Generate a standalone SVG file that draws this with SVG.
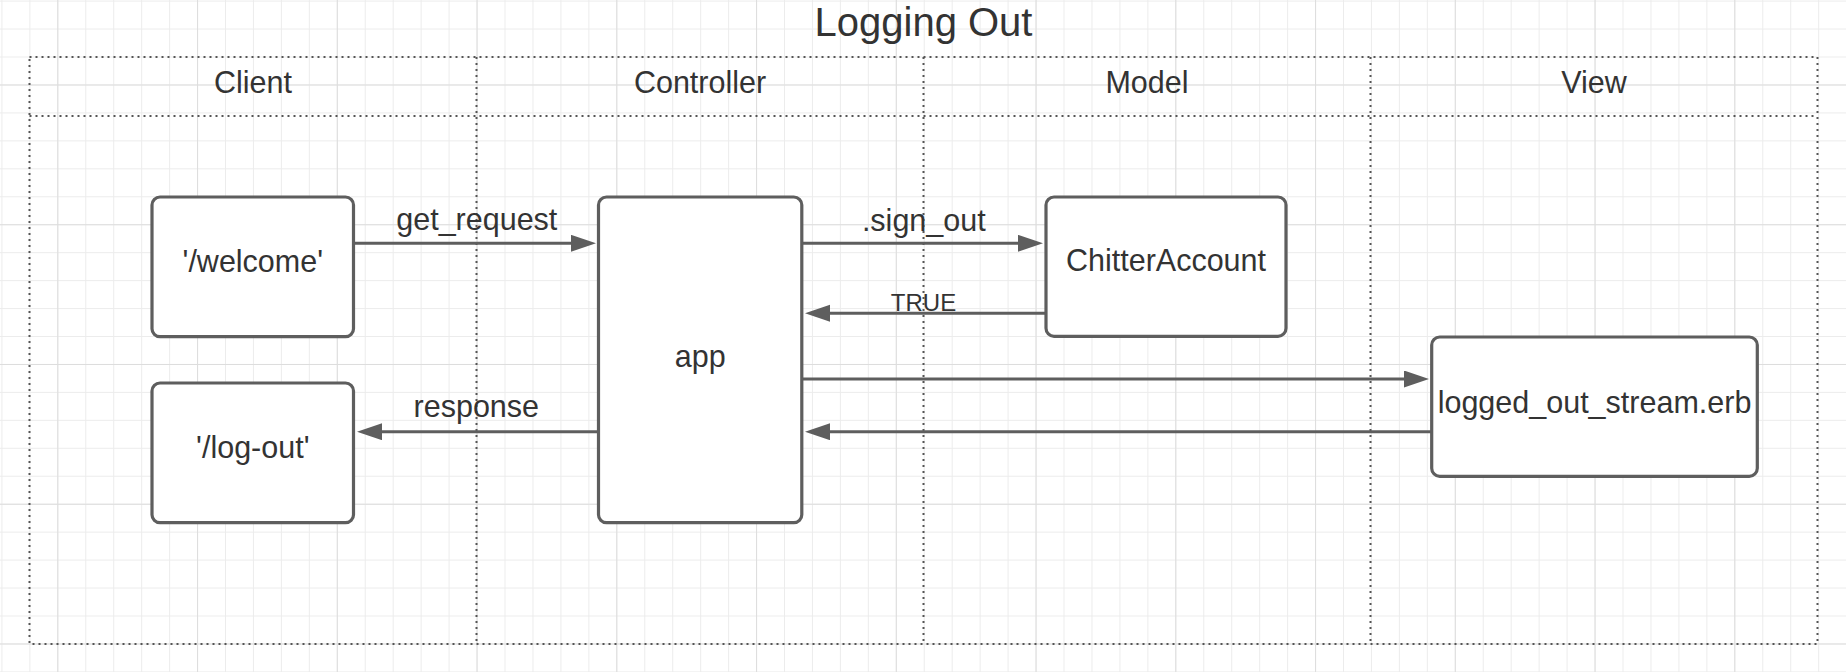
<svg xmlns="http://www.w3.org/2000/svg" width="1846" height="672" viewBox="0 0 1846 672">
  <style>
    text { font-family: "Liberation Sans", Arial, sans-serif; fill: #333333; }
    .title { font-size: 40px; text-anchor: middle; }
    .lane { font-size: 30.5px; text-anchor: middle; }
    .lbl { font-size: 30.5px; text-anchor: middle; }
    .small { font-size: 24px; text-anchor: middle; }
    .box { fill: #ffffff; stroke: #5e5e5e; stroke-width: 3.2; }
    .dot { fill: none; stroke: #555555; stroke-width: 2; stroke-dasharray: 2 4; }
    .conn { fill: none; stroke: #5e5e5e; stroke-width: 3; marker-end: url(#arr); }
  </style>
  <defs>
    <pattern id="minor" width="27.95" height="27.95" x="1.4" y="0.6" patternUnits="userSpaceOnUse">
      <path d="M0,0 H27.95 M0,0 V27.95" fill="none" stroke="#ececec" stroke-width="2"/>
    </pattern>
    <pattern id="major" width="139.75" height="139.75" x="57.3" y="84.5" patternUnits="userSpaceOnUse">
      <path d="M0,0 H139.75 M0,0 V139.75" fill="none" stroke="#dddddd" stroke-width="2"/>
    </pattern>
    <marker id="arr" markerUnits="userSpaceOnUse" markerWidth="26" markerHeight="18" refX="15" refY="8.5" orient="auto">
      <path d="M0,0 L25,8.5 L0,17 z" fill="#5e5e5e"/>
    </marker>
  </defs>

  <rect width="1846" height="672" fill="#ffffff"/>
  <rect width="1846" height="672" fill="url(#minor)"/>
  <rect width="1846" height="672" fill="url(#major)"/>

  <g id="title">
    <text class="title" x="923.5" y="36">Logging Out</text>
  </g>

  <g id="swimlanes">
    <rect class="dot" x="29.5" y="57" width="1788" height="587"/>
    <line class="dot" x1="29.5" y1="116" x2="1817.5" y2="116"/>
    <line class="dot" x1="476.5" y1="57" x2="476.5" y2="644"/>
    <line class="dot" x1="923.5" y1="57" x2="923.5" y2="644"/>
    <line class="dot" x1="1370.5" y1="57" x2="1370.5" y2="644"/>
    <text class="lane" x="253" y="93">Client</text>
    <text class="lane" x="700" y="93">Controller</text>
    <text class="lane" x="1147" y="93">Model</text>
    <text class="lane" x="1594" y="93">View</text>
  </g>

  <g id="connectors">
    <line class="conn" x1="354" y1="243.3" x2="586" y2="243.3"/>
    <line class="conn" x1="802" y1="243.3" x2="1033" y2="243.3"/>
    <line class="conn" x1="1046" y1="313.3" x2="815" y2="313.3"/>
    <line class="conn" x1="802" y1="379" x2="1419" y2="379"/>
    <line class="conn" x1="1432" y1="431.7" x2="815" y2="431.7"/>
    <line class="conn" x1="598" y1="431.7" x2="367" y2="431.7"/>
    <text class="lbl" x="476.8" y="230">get_request</text>
    <text class="lbl" x="923.8" y="230.5">.sign_out</text>
    <text class="small" x="923.5" y="310.5">TRUE</text>
    <text class="lbl" x="476.3" y="417.3">response</text>
  </g>

  <g id="welcome">
    <rect class="box" x="152" y="197" width="201.5" height="139.7" rx="8"/>
    <text class="lbl" x="252.8" y="272">'/welcome'</text>
  </g>
  <g id="logout">
    <rect class="box" x="152" y="383" width="201.5" height="139.7" rx="8"/>
    <text class="lbl" x="252.8" y="458">'/log-out'</text>
  </g>
  <g id="app">
    <rect class="box" x="598.5" y="197" width="203.3" height="325.7" rx="8"/>
    <text class="lbl" x="700.2" y="367">app</text>
  </g>
  <g id="chitteraccount">
    <rect class="box" x="1046" y="197" width="240" height="139.3" rx="8"/>
    <text class="lbl" x="1166" y="271">ChitterAccount</text>
  </g>
  <g id="loggedout">
    <rect class="box" x="1431.7" y="337" width="325.6" height="139.3" rx="8"/>
    <text class="lbl" x="1594.5" y="412.7">logged_out_stream.erb</text>
  </g>
</svg>
